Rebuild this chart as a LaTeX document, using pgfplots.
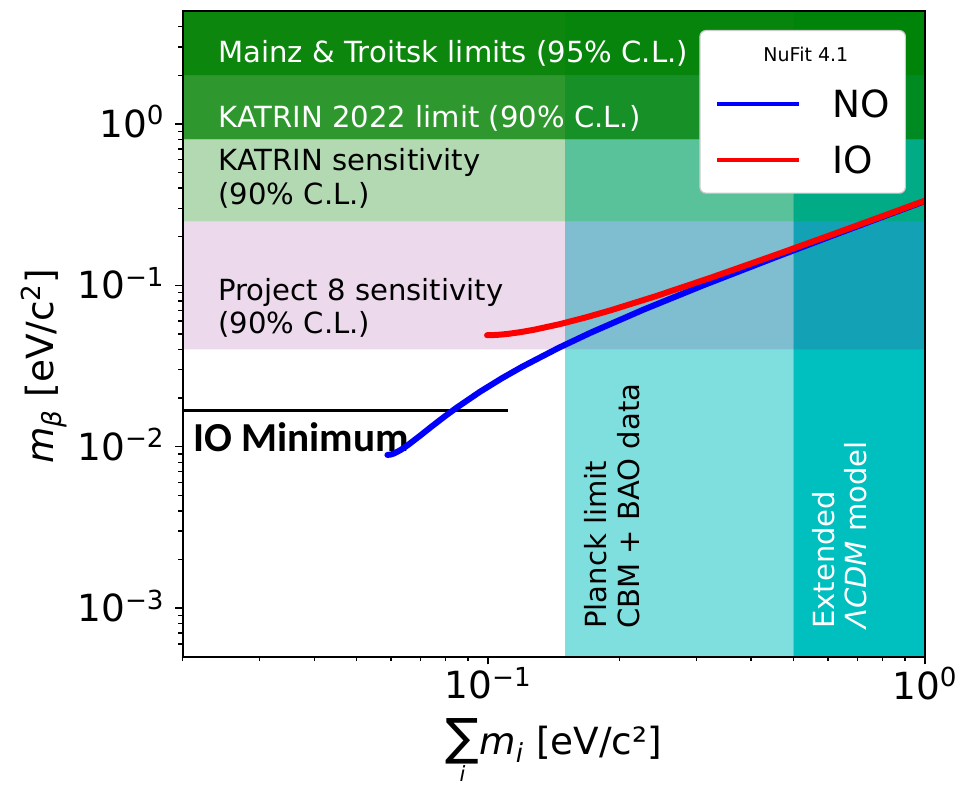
\documentclass[border=0pt]{standalone}
\usepackage{fontspec}
\setmainfont{DejaVu Sans}
\newfontfamily\calibri{Carlito}
\usepackage{pgfplots}
\pgfplotsset{compat=1.18}
\definecolor{mplgreen}{RGB}{0,128,0}
\definecolor{mplcyan}{RGB}{0,191,191}
\definecolor{mplpurple}{RGB}{128,0,128}
\definecolor{NOblue}{RGB}{0,0,255}
\definecolor{IOred}{RGB}{255,0,0}
\newcommand{\bandfont}{\fontsize{14.55}{17}\selectfont}
\newcommand{\bigfont}{\fontsize{18.7}{22}\selectfont}
\newcommand{\bigsum}{\vtop{\offinterlineskip\halign{\hfil##\hfil\cr{\fontsize{25}{25}\selectfont ∑}\cr\noalign{\kern0.3pt}{\fontsize{10.5}{10.5}\selectfont\itshape i}\cr}}}

\begin{document}
\begin{tikzpicture}
\begin{axis}[
  name=ax,
  scale only axis, width=371.15pt, height=322.85pt,
  xmode=log, ymode=log,
  xmin=0.02, xmax=1, ymin=5e-4, ymax=5,
  axis on top,
  tick pos=left, tick align=outside,
  major tick length=3.8pt, minor tick length=2.2pt,
  tick style={black, line width=0.7pt},
  axis line style={line width=0.9pt},
  xtick={0.1,1}, xticklabels={10\textsuperscript{−1},10\textsuperscript{0}},
  ytick={1e-3,1e-2,1e-1,1},
  yticklabels={10\textsuperscript{−3},10\textsuperscript{−2},10\textsuperscript{−1},10\textsuperscript{0}},
  minor xtick={0.02,0.03,0.04,0.05,0.06,0.07,0.08,0.09,0.2,0.3,0.4,0.5,0.6,0.7,0.8,0.9},
  minor ytick={6e-4,7e-4,8e-4,9e-4,2e-3,3e-3,4e-3,5e-3,6e-3,7e-3,8e-3,9e-3,0.02,0.03,0.04,0.05,0.06,0.07,0.08,0.09,0.2,0.3,0.4,0.5,0.6,0.7,0.8,0.9,2,3,4},
  tick label style={font=\bigfont},
  xticklabel style={inner sep=0pt, yshift=-1.35pt},
  yticklabel style={inner sep=0pt, anchor=base east, xshift=-5.05pt, yshift=-6.8pt},
  label style={font=\bigfont},
  xlabel={\bigsum\textit{m}\textsubscript{\textit{i}} [eV/c²]},
  ylabel={\textit{m}\textsubscript{\textit{β}} [eV/c\textsuperscript{2}]},
  xlabel style={at={(axis description cs:0.5,-0.15224)}, anchor=base},
  ylabel style={at={(axis description cs:-0.17432,0.450)}, anchor=base},
  legend image code/.code={\draw[#1] (0pt,6.8pt) -- (41pt,6.8pt);},
  legend style={
    at={(1,1)}, anchor=north east, xshift=-9.5pt, yshift=-9.5pt,
    draw=black!20, fill=white, rounded corners=3pt, line width=0.6pt,
    font=\bigfont,
    inner xsep=7.75pt, inner ysep=8.3pt,
    row sep=12.6pt, column sep=15.5pt,
    nodes={inner sep=0pt},
    cells={anchor=base west},
  },
]
% vertical bands
\addplot[draw=none, fill=mplcyan, fill opacity=0.5, forget plot] coordinates {(0.15,1e-4) (0.5,1e-4) (0.5,10) (0.15,10) (0.15,1e-4)};
\addplot[draw=none, fill=mplcyan, forget plot] coordinates {(0.5,1e-4) (1.2,1e-4) (1.2,10) (0.5,10) (0.5,1e-4)};
% horizontal bands
\addplot[draw=none, fill=mplgreen, fill opacity=0.95, forget plot] coordinates {(0.01,2) (2,2) (2,10) (0.01,10) (0.01,2)};
\addplot[draw=none, fill=mplgreen, fill opacity=0.82, forget plot] coordinates {(0.01,0.8) (2,0.8) (2,2) (0.01,2) (0.01,0.8)};
\addplot[draw=none, fill=mplgreen, fill opacity=0.3, forget plot] coordinates {(0.01,0.25) (2,0.25) (2,0.8) (0.01,0.8) (0.01,0.25)};
\addplot[draw=none, fill=mplpurple, fill opacity=0.15, forget plot] coordinates {(0.01,0.04) (2,0.04) (2,0.25) (0.01,0.25) (0.01,0.04)};
% band texts
\node[anchor=base west, inner sep=0pt, text=white, font=\bandfont] at (axis cs:0.0241,2.40) {Mainz \& Troitsk limits (95\% C.L.)};
\node[anchor=base west, inner sep=0pt, text=white, font=\bandfont] at (axis cs:0.0241,0.953) {KATRIN 2022 limit (90\% C.L.)};
\node[anchor=base west, inner sep=0pt, font=\bandfont] at (axis cs:0.0241,0.5145) {KATRIN sensitivity};
\node[anchor=base west, inner sep=0pt, font=\bandfont] at (axis cs:0.0241,0.317) {(90\% C.L.)};
\node[anchor=base west, inner sep=0pt, font=\bandfont] at (axis cs:0.0241,0.0809) {Project 8 sensitivity};
\node[anchor=base west, inner sep=0pt, font=\bandfont] at (axis cs:0.0241,0.0504) {(90\% C.L.)};
\node[rotate=90, anchor=base west, inner sep=0pt, font=\bandfont] at (axis cs:0.1869,7.39e-4) {Planck limit};
\node[rotate=90, anchor=base west, inner sep=0pt, font=\bandfont] at (axis cs:0.2219,7.39e-4) {CBM + BAO data};
\node[rotate=90, anchor=base west, inner sep=0pt, text=white, font=\bandfont] at (axis cs:0.6223,7.39e-4) {Extended};
\node[rotate=90, anchor=base west, inner sep=0pt, text=white, font=\bandfont] at (axis cs:0.7356,7.39e-4) {\textit{ΛCDM} model};
\node[anchor=base west, inner sep=0pt, font={\calibri\fontsize{20.6}{24}\selectfont\bfseries}] at (axis cs:0.0211,0.0093) {IO Minimum};
% IO minimum line
\addplot[black, line width=1.6pt, forget plot] coordinates {(0.02,0.0167) (0.111,0.0167)};
% NO curve
\addplot[NOblue, line width=3pt, line cap=round, line join=round, forget plot] coordinates {
(0.05883,0.008885) (0.05989,0.008941) (0.0611,0.009107) (0.06313,0.009549) (0.06543,0.010195)
(0.069695,0.011627) (0.0744,0.013377) (0.079433,0.015336) (0.08471,0.017434) (0.09583,0.021885)
(0.107544,0.026532) (0.11972,0.031288) (0.14512,0.040975) (0.1716,0.050783) (0.22669,0.070561)
(0.31228,0.10039) (0.45844,0.15026) (0.60639,0.2002) (0.75515,0.25016) (0.9043,0.30013) (1.00886,0.33512)};
% IO curve
\addplot[IOred, line width=3pt, line cap=round, line join=round, forget plot] coordinates {
(0.09946,0.04902) (0.102081,0.049087) (0.10496,0.04928) (0.10808,0.049594) (0.11145,0.05003)
(0.118882,0.051267) (0.12719,0.05295) (0.14616,0.05747) (0.16764,0.06327) (0.19104,0.07002)
(0.24173,0.08546) (0.32337,0.11137) (0.46606,0.15781) (0.61218,0.20592) (0.7598,0.25476)
(0.90819,0.30398) (1.01235,0.33857)};
% legend
\addlegendimage{empty legend}
\addlegendentry{\hspace*{-34.5pt}{\fontsize{9.5}{11}\selectfont NuFit 4.1}}
\addlegendimage{NOblue, line width=2pt}
\addlegendentry{\raisebox{0pt}[\height][2.1pt]{NO}}
\addlegendimage{IOred, line width=2pt}
\addlegendentry{\raisebox{0pt}[\height][3.7pt]{IO}}
\end{axis}
\pgfresetboundingbox
\path ([xshift=-91.35pt,yshift=-64.15pt]ax.south west) rectangle ([xshift=17.5pt,yshift=5.5pt]ax.north east);
\end{tikzpicture}
\end{document}
